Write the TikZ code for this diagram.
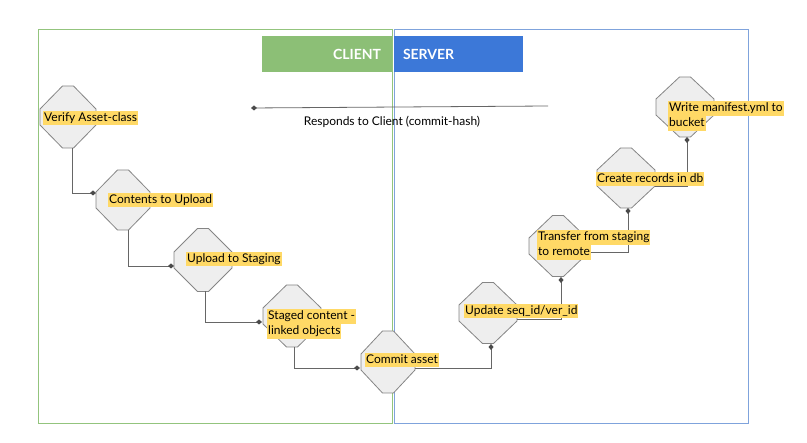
\documentclass[tikz,border=0pt]{standalone}
\usepackage{fontspec}
\setmainfont{Lato}
\usetikzlibrary{arrows.meta,calc}
\definecolor{hlc}{HTML}{FFD966}
\definecolor{gborder}{HTML}{93C47D}
\definecolor{gfill}{HTML}{8CBF76}
\definecolor{bborder}{HTML}{7FA3DC}
\definecolor{bfill}{HTML}{3C78D8}
\definecolor{octfill}{HTML}{EEEEEE}
\definecolor{octline}{HTML}{858585}
\definecolor{connc}{HTML}{666666}
\definecolor{dotc}{HTML}{4A4A4A}
\newcommand\hlbox[1]{{\setlength\fboxsep{1pt}\colorbox{hlc}{\rule[-2.8pt]{0pt}{12.2pt}#1}}}
\tikzset{
  octastyle/.style={draw=octline,fill=octfill,line width=0.8pt,line join=miter},
  conn/.style={draw=connc,line width=0.8pt,-{Diamond[length=6pt,width=5pt,color=dotc,fill=dotc]}},
  lab/.style={inner sep=0pt,anchor=west,align=left,font=\fontsize{12}{15}\selectfont},
  hdr/.style={minimum height=36pt,inner ysep=0pt,text=white,font=\fontsize{14}{16}\selectfont\bfseries}
}
\newcommand\octa[5]{%
  \draw[octastyle,shift={(#2,#3)}] (-5.5,-#5) -- (5.5,-#5) -- (#4,-8) -- (#4,8) -- (5.5,#5) -- (-5.5,#5) -- (-#4,8) -- (-#4,-8) -- cycle;
  \coordinate (#1) at (#2,#3);}
\begin{document}
\begin{tikzpicture}[x=1pt,y=-1pt]
\useasboundingbox (0,0) rectangle (807,443);
% frames
\draw[gborder,line width=0.8pt] (38,29) rectangle (392,423);
\draw[bborder,line width=0.8pt] (394,29) rectangle (748,423);
% headers
\node[hdr,fill=gfill,minimum width=130pt,text width=108pt,inner xsep=11pt,align=right] (client) at (327,54) {CLIENT};
\node[hdr,fill=bfill,minimum width=129pt,text width=111pt,inner xsep=9pt,align=left] (server) at (458.5,54) {SERVER};
\draw[gborder,line width=0.8pt] (392,29) -- (392,423);
% shapes
\octa{verify}{68}{117}{28}{31}
\octa{contents}{123}{200}{27}{30}
\octa{upload}{203}{260}{29}{31.5}
\octa{staged}{292}{316}{29}{31}
\octa{commit}{388}{362}{27}{31}
\octa{update}{488}{313}{29}{30.5}
\octa{transfer}{558}{246}{29}{30.5}
\octa{create}{626}{178}{29}{30}
\octa{write}{685}{107}{29}{30}
% connector points
\coordinate (verify-out) at ($(verify)+(4,31)$);
\coordinate (contents-in) at ($(contents)+(-27,-7)$);
\coordinate (contents-out) at ($(contents)+(5,30)$);
\coordinate (upload-in) at ($(upload)+(-29,6)$);
\coordinate (upload-out) at ($(upload)+(2,31.5)$);
\coordinate (staged-in) at ($(staged)+(-30,6)$);
\coordinate (staged-out) at ($(staged)+(2,31)$);
\coordinate (commit-in) at ($(commit)+(-28,6)$);
\coordinate (commit-out) at ($(commit)+(27,6)$);
\coordinate (update-in) at ($(update)+(3,31)$);
\coordinate (update-out) at ($(update)+(29,6)$);
\coordinate (transfer-in) at ($(transfer)+(3,31)$);
\coordinate (transfer-out) at ($(transfer)+(29,6)$);
\coordinate (create-in) at ($(create)+(2,30)$);
\coordinate (create-out) at ($(create)+(29,8)$);
\coordinate (write-in) at ($(write)+(2,30)$);
\coordinate (resp-a) at (548,106);
\coordinate (resp-b) at (251,108);
% connectors
\draw[conn] (verify-out) |- (contents-in);
\draw[conn] (contents-out) |- (upload-in);
\draw[conn] (upload-out) |- (staged-in);
\draw[conn] (staged-out) |- (commit-in);
\draw[conn] (commit-out) -| (update-in);
\draw[conn] (update-out) -| (transfer-in);
\draw[conn] (transfer-out) -| (create-in);
\draw[conn] (create-out) -| (write-in);
\draw[conn] (resp-a) -- (resp-b);
\node[font=\fontsize{12}{15}\selectfont,inner sep=0pt] (resp) at (392,122) {Responds to Client (commit-hash)};
% labels
\node[lab] (verify-t) at (43,118) {\hlbox{Verify Asset-class}};
\node[lab] (contents-t) at (108,200) {\hlbox{Contents to Upload}};
\node[lab] (upload-t) at (186,259) {\hlbox{Upload to Staging}};
\node[lab] (staged-t) at (267,324) {\hlbox{Staged content -}\\\hlbox{linked objects}};
\node[lab] (commit-t) at (365,360) {\hlbox{Commit asset}};
\node[lab] (update-t) at (464,311) {\hlbox{Update seq\_id/ver\_id}};
\node[lab] (transfer-t) at (537,245) {\hlbox{Transfer from staging}\\\hlbox{to remote}};
\node[lab] (create-t) at (596,179) {\hlbox{Create records in db}};
\node[lab] (write-t) at (668,116) {\hlbox{Write manifest.yml to}\\\hlbox{bucket}};
\end{tikzpicture}
\end{document}
